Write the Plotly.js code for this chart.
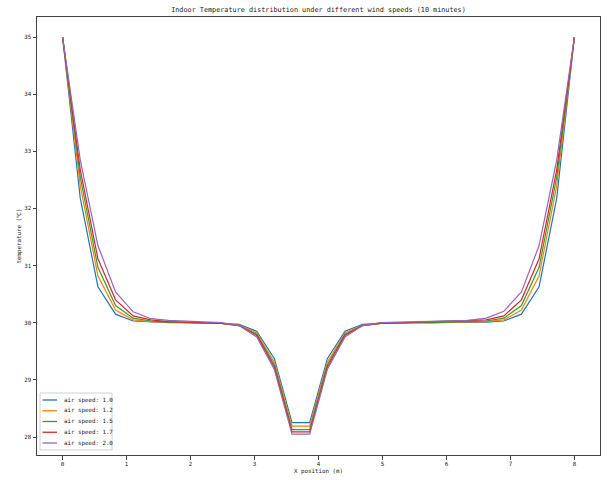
<!DOCTYPE html>
<html>
<head>
<meta charset="utf-8">
<script src="https://cdn.plot.ly/plotly-3.0.1.min.js"></script>
<style>html,body{margin:0;padding:0;background:#fff;}#chart{width:612px;height:480px;}</style>
</head>
<body>
<div id="chart"></div>
<script>
var xPos = [0, 0.276, 0.552, 0.828, 1.103, 1.379, 1.655, 1.931, 2.207, 2.483, 2.759, 3.034, 3.310, 3.586, 3.862, 4.138, 4.414, 4.690, 4.966, 5.241, 5.517, 5.793, 6.069, 6.345, 6.621, 6.897, 7.172, 7.448, 7.724, 8];
var speed10 = [35, 32.18, 30.63, 30.15, 30.03, 30.01, 30.0, 30.0, 30.0, 29.99, 29.97, 29.85, 29.37, 28.25, 28.25, 29.37, 29.85, 29.97, 29.99, 30.0, 30.0, 30.0, 30.0, 30.01, 30.01, 30.03, 30.15, 30.63, 32.18, 35];
var speed12 = [35, 32.4, 30.82, 30.22, 30.05, 30.02, 30.01, 30.0, 30.0, 29.99, 29.96, 29.82, 29.31, 28.19, 28.19, 29.31, 29.82, 29.96, 29.99, 30.0, 30.0, 30.0, 30.01, 30.01, 30.02, 30.05, 30.22, 30.82, 32.4, 35];
var speed15 = [35, 32.55, 30.97, 30.3, 30.08, 30.03, 30.01, 30.0, 30.0, 29.99, 29.95, 29.8, 29.26, 28.13, 28.13, 29.26, 29.8, 29.95, 29.99, 30.0, 30.0, 30.0, 30.01, 30.02, 30.03, 30.08, 30.3, 30.97, 32.55, 35];
var speed17 = [35, 32.68, 31.12, 30.4, 30.12, 30.05, 30.02, 30.01, 30.0, 29.99, 29.95, 29.78, 29.22, 28.09, 28.09, 29.22, 29.78, 29.95, 29.99, 30.0, 30.01, 30.01, 30.02, 30.03, 30.05, 30.12, 30.4, 31.12, 32.68, 35];
var speed20 = [35, 32.85, 31.35, 30.54, 30.19, 30.07, 30.04, 30.03, 30.02, 30.0, 29.95, 29.75, 29.18, 28.05, 28.05, 29.18, 29.75, 29.95, 30.0, 30.01, 30.02, 30.02, 30.03, 30.04, 30.08, 30.2, 30.54, 31.35, 32.85, 35];
var seriesNames = ["air speed: 1.0", "air speed: 1.2", "air speed: 1.5", "air speed: 1.7", "air speed: 2.0"];
var seriesValues = [speed10, speed12, speed15, speed17, speed20];
var colors = ["#1f77b4", "#ff7f0e", "#2ca02c", "#d62728", "#9467bd"];

var FONT = "DejaVu Sans Mono, Liberation Mono, monospace";
var SMALL = 5.8, BIG = 6.8;
var W = 612, H = 480, ML = 37, MR = 12, MT = 17, MB = 25;
var PW = W - ML - MR, PH = H - MT - MB;
function px(xp) { return (xp - ML) / PW; }
function py(yp) { return (H - MB - yp) / PH; }

var traces = seriesValues.map(function (v, i) {
  return {x: xPos, y: v, type: "scatter", mode: "lines", name: seriesNames[i],
          line: {color: colors[i], width: 1.2}, showlegend: false};
});

// compact legend box (matplotlib-style)
var shapes = [{type: "rect", xref: "paper", yref: "paper", x0: px(40), x1: px(112), y0: py(450), y1: py(393),
               line: {color: "#d0d0d0", width: 1}, fillcolor: "rgba(255,255,255,0.85)", layer: "above"}];
var annotations = [];
seriesNames.forEach(function (n, i) {
  var yy = 400 + i * 10.75;
  shapes.push({type: "line", xref: "paper", yref: "paper", x0: px(42.5), x1: px(57), y0: py(yy), y1: py(yy),
               line: {color: colors[i], width: 1.3}, layer: "above"});
  annotations.push({xref: "paper", yref: "paper", x: px(61.5), y: py(yy), text: n, showarrow: false,
                    xanchor: "left", yanchor: "middle", font: {family: FONT, size: SMALL, color: "#222"}});
});

var axisCommon = {
  showgrid: false, zeroline: false, showline: true, mirror: true,
  linecolor: "#444", linewidth: 1, ticks: "outside", ticklen: 3.5, tickwidth: 1,
  tickcolor: "#444", tickfont: {family: FONT, size: SMALL, color: "#222"}
};
var layout = {
  width: W, height: H,
  margin: {l: ML, r: MR, t: MT, b: MB},
  paper_bgcolor: "#fff", plot_bgcolor: "#fff",
  font: {family: FONT, size: SMALL, color: "#222"},
  title: {text: "Indoor Temperature distribution under different wind speeds (10 minutes)",
          font: {family: FONT, size: BIG, color: "#222"}, xref: "paper", x: 0.5, xanchor: "center",
          yref: "container", y: 0.981, yanchor: "middle"},
  xaxis: Object.assign({}, axisCommon, {range: [-0.4, 8.4], tickvals: [0,1,2,3,4,5,6,7,8],
          title: {text: "X position (m)", font: {family: FONT, size: SMALL, color: "#222"}, standoff: 2}}),
  yaxis: Object.assign({}, axisCommon, {range: [27.685, 35.35], tickvals: [28,29,30,31,32,33,34,35],
          title: {text: "temperature (℃)", font: {family: FONT, size: SMALL, color: "#222"}, standoff: 2}}),
  shapes: shapes,
  annotations: annotations,
  showlegend: false
};
Plotly.newPlot("chart", traces, layout, {staticPlot: true, displayModeBar: false});
</script>
</body>
</html>
